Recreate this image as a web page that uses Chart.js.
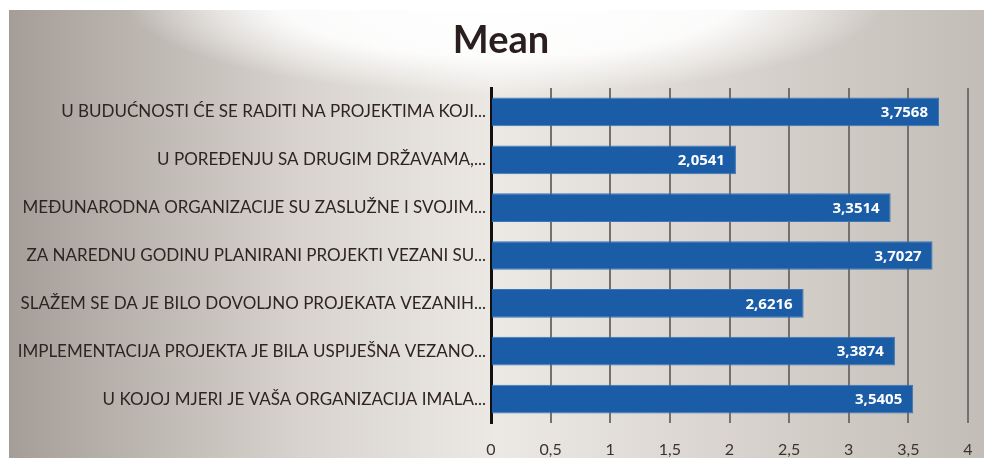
<!DOCTYPE html>
<html>
<head>
<meta charset="utf-8">
<script src="https://cdn.jsdelivr.net/npm/chart.js@4"></script>
<style>
  html, body { margin: 0; padding: 0; background: #ffffff; overflow: hidden; }
  canvas { display: block; }
</style>
</head>
<body>
<canvas id="mean-chart" width="984" height="461"></canvas>
<script>
var categories = [
    'U BUDUĆNOSTI ĆE SE RADITI NA PROJEKTIMA KOJI...',
    'U POREĐENJU SA DRUGIM DRŽAVAMA,...',
    'MEĐUNARODNA ORGANIZACIJE SU ZASLUŽNE I SVOJIM...',
    'ZA NAREDNU GODINU PLANIRANI PROJEKTI VEZANI SU...',
    'SLAŽEM SE DA JE BILO DOVOLJNO PROJEKATA VEZANIH...',
    'IMPLEMENTACIJA PROJEKTA JE BILA USPIJEŠNA VEZANO...',
    'U KOJOJ MJERI JE VAŠA ORGANIZACIJA IMALA...'
];
var meanValues = [3.7568, 2.0541, 3.3514, 3.7027, 2.6216, 3.3874, 3.5405];
var xTicks = [0, 0.5, 1, 1.5, 2, 2.5, 3, 3.5, 4];
var chartTitle = 'Mean';

function withComma(v) {
    return String(v).replace('.', ',');
}

// grey panel with a light glow behind the title
var panelBackground = {
    id: 'panelBackground',
    beforeDraw: function(chart) {
        var c = chart.ctx;
        var w = chart.width, h = chart.height;
        c.save();
        var lin = c.createLinearGradient(9, 0, w, 0);
        lin.addColorStop(0, '#a59e98');
        lin.addColorStop(0.3, '#d8d3ce');
        lin.addColorStop(0.5, '#ece9e5');
        lin.addColorStop(0.7, '#dcd7d2');
        lin.addColorStop(1, '#c3bdb7');
        c.fillStyle = lin;
        c.fillRect(9, 10, w - 9, h - 13);

        c.beginPath();
        c.rect(9, 10, w - 9, h - 13);
        c.clip();
        c.translate(505, 0);
        c.scale(4, 1);
        var rad = c.createRadialGradient(0, 0, 0, 0, 0, 95);
        rad.addColorStop(0, 'rgba(255,255,255,1)');
        rad.addColorStop(0.6, 'rgba(255,255,255,0.9)');
        rad.addColorStop(1, 'rgba(255,255,255,0)');
        c.fillStyle = rad;
        c.fillRect(-130, 0, 260, 100);
        c.restore();
    }
};

// title centred over the bars rather than the canvas
var centredTitle = {
    id: 'centredTitle',
    afterDraw: function(chart) {
        var c = chart.ctx;
        c.save();
        c.font = 'bold 38px Lato';
        c.fillStyle = '#2a1f1e';
        c.textAlign = 'center';
        c.textBaseline = 'middle';
        c.fillText(chartTitle, 501, 41);
        c.restore();
    }
};

// value written inside the end of each bar
var barValues = {
    id: 'barValues',
    afterDatasetsDraw: function(chart) {
        var c = chart.ctx;
        var meta = chart.getDatasetMeta(0);
        c.save();
        c.font = 'bold 15px "Open Sans"';
        c.fillStyle = '#ffffff';
        c.textAlign = 'right';
        c.textBaseline = 'middle';
        meta.data.forEach(function(bar, i) {
            c.fillText(withComma(meanValues[i].toFixed(4)), bar.x - 11, bar.y + 1);
        });
        c.restore();
    }
};

function noEdgePadding(scale) {
    scale.paddingLeft = 0;
    scale.paddingRight = 0;
    scale.paddingTop = 0;
    scale.paddingBottom = 0;
}

var ctx = document.getElementById('mean-chart').getContext('2d');
var chart = new Chart(ctx, {
    type: 'bar',
    data: {
        labels: categories,
        datasets: [{
            label: chartTitle,
            data: meanValues,
            backgroundColor: '#1b5ca6',
            borderColor: '#3a76b9',
            borderWidth: 1,
            barPercentage: 0.6,
            categoryPercentage: 1
        }]
    },
    options: {
        indexAxis: 'y',
        responsive: false,
        animation: false,
        layout: { padding: { left: 0, right: 16, top: 88, bottom: 2 } },
        plugins: {
            legend: { display: false },
            tooltip: { enabled: false },
            title: { display: false }
        },
        scales: {
            x: {
                min: 0,
                max: 4,
                afterBuildTicks: function(scale) {
                    scale.ticks = xTicks.map(function(v) { return { value: v }; });
                },
                afterFit: function(scale) {
                    scale.height = 36;
                    noEdgePadding(scale);
                },
                grid: {
                    drawTicks: false,
                    color: function(c) { return c.tick && c.tick.value === 0 ? 'rgba(0,0,0,0)' : '#75706b'; },
                    lineWidth: 2
                },
                border: { display: false },
                ticks: {
                    padding: 17,
                    color: '#3b3330',
                    font: { family: 'Lato', size: 16 },
                    callback: function(v) { return withComma(v); }
                }
            },
            y: {
                afterFit: function(scale) {
                    scale.width = 491;
                    noEdgePadding(scale);
                },
                grid: { display: false, drawTicks: false },
                border: { display: true, color: '#111111', width: 3 },
                ticks: {
                    padding: 5,
                    color: '#2e2522',
                    font: { family: 'Lato', size: 17 }
                }
            }
        }
    },
    plugins: [panelBackground, barValues, centredTitle]
});
</script>
</body>
</html>
